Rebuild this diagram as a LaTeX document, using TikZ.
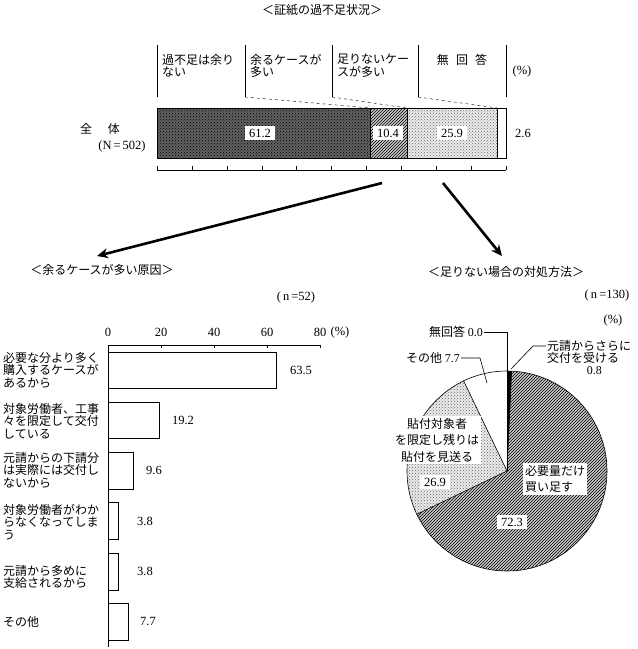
\documentclass[tikz,border=0pt]{standalone}
\usepackage{fontspec}
\setmainfont{Noto Sans CJK JP}
\newfontfamily\numfont{Liberation Serif}
\usepackage{tikz}
\usetikzlibrary{patterns,arrows.meta,positioning}

\tikzset{
  every node/.style={inner sep=1pt, font=\fontsize{12}{12.5}\selectfont},
  numbox/.style={font=\numfont\fontsize{12.5}{13}\selectfont, fill=white, inner xsep=4pt, inner ysep=3pt},
  numplain/.style={font=\numfont\fontsize{12.5}{13}\selectfont},
  hdrtext/.style={anchor=north west, align=left},
  cattext/.style={anchor=west, align=left},
  piebox/.style={fill=white, inner sep=2pt, font=\fontsize{12}{16.5}\selectfont},
  causebar/.style={draw, fill=white, line width=0.6pt},
  bigarrow/.style={line width=2.6pt, -{Stealth[length=11pt,width=10pt]}},
  leader/.style={line width=0.6pt},
  darkpat/.style={preaction={fill=black!62}, pattern=crosshatch dots, pattern color=black},
  hatchpat/.style={preaction={fill=black!22}, pattern=north east lines, pattern color=black},
  dotpat/.style={preaction={fill=black!8}, pattern=crosshatch dots, pattern color=black!60},
}
\newcommand{\nm}[1]{{\numfont #1}}

\begin{document}
\begin{tikzpicture}[x=1pt,y=-1pt]
  \useasboundingbox (0,0) rectangle (638,649);

  % overall status
  \node (ttlTop) at (322,10) {＜証紙の過不足状況＞};

  \draw[line width=0.6pt] (157,45) -- (157,97) (245,45) -- (245,97) (332,45) -- (332,97)
    (418,45) -- (418,97) (506,45) -- (506,97);
  \node[hdrtext] (hdrEnough) at (161,53) {過不足は余り\\ない};
  \node[hdrtext] (hdrSurplus) at (249,53) {余るケースが\\多い};
  \node[hdrtext] (hdrShort) at (336,53) {足りないケー\\スが多い};
  \node (hdrNoAns) at (462,60) {無\hspace{0.6em}回\hspace{0.6em}答};
  \node[numplain] (hdrPct) at (522,71) {(\%)};

  \draw[darkpat] (157,108) rectangle (370.6,158);
  \draw[hatchpat] (370.6,108) rectangle (406.9,158);
  \draw[dotpat] (406.9,108) rectangle (497.3,158);
  \draw[fill=white] (497.3,108) rectangle (506,158);
  \draw[line width=0.6pt] (157,108) rectangle (506,158);

  \draw[dashed] (245,97) -- (370.6,108);
  \draw[dashed] (332,97) -- (406.9,108);
  \draw[dashed] (418,97) -- (497.3,108);

  \node[numbox] (valEnough) at (260,133) {61.2};
  \node[numbox] (valSurplus) at (388,133) {10.4};
  \node[numbox] (valShort) at (452,133) {25.9};
  \node[numplain] (valNoAns) at (523,133) {2.6};

  \node (allLbl) at (100,129) {全\hspace{1.3em}体};
  \node[numplain] (allN) at (122,146) {(N\,=\,502)};

  \draw (157,170) -- (506,170);
  \draw (157,170) -- ++(0,-4) (191.9,170) -- ++(0,-4) (226.8,170) -- ++(0,-4)
    (261.7,170) -- ++(0,-4) (296.6,170) -- ++(0,-4) (331.5,170) -- ++(0,-4)
    (366.4,170) -- ++(0,-4) (401.3,170) -- ++(0,-4) (436.2,170) -- ++(0,-4)
    (471.1,170) -- ++(0,-4) (506,170) -- ++(0,-4);

  \coordinate (splitL) at (382,183);
  \coordinate (splitR) at (443,183);
  \coordinate (tipL) at (97,256);
  \coordinate (tipR) at (502,256);
  \draw[bigarrow] (splitL) -- (tipL);
  \draw[bigarrow] (splitR) -- (tipR);

  % reasons for surplus
  \node (ttlCause) at (102,270) {＜余るケースが多い原因＞};
  \node[numplain] (nCause) at (296,297) {(\,n\,=52)};

  \node[numplain] (ax0) at (108,332) {0};
  \node[numplain] (ax20) at (161,332) {20};
  \node[numplain] (ax40) at (214,332) {40};
  \node[numplain] (ax60) at (267,332) {60};
  \node[numplain] (ax80) at (320,332) {80};
  \node[numplain] (axPct) at (340,332) {(\%)};
  \draw (108,345) -- (320,345);
  \draw (161,345) -- ++(0,3) (214,345) -- ++(0,3) (267,345) -- ++(0,3) (320,345) -- ++(0,3);
  \draw (108,345) -- (108,647);

  \draw[causebar] (108,352) rectangle (276.3,388);
  \draw[causebar] (108,402) rectangle (158.9,438);
  \draw[causebar] (108,452) rectangle (133.4,489);
  \draw[causebar] (108,502) rectangle (118.1,539);
  \draw[causebar] (108,553) rectangle (118.1,590);
  \draw[causebar] (108,603) rectangle (128.4,640);

  \node[numplain] (valBuy) at (301,370) {63.5};
  \node[numplain] (valLimit) at (183,420) {19.2};
  \node[numplain] (valSub) at (154,470) {9.6};
  \node[numplain] (valLost) at (145,521) {3.8};
  \node[numplain] (valExtra) at (145,571) {3.8};
  \node[numplain] (valOther) at (148,621) {7.7};

  \node[cattext] (catBuy) at (2,370) {必要な分より多く\\購入するケースが\\あるから};
  \node[cattext] (catLimit) at (2,421) {対象労働者、工事\\々を限定して交付\\している};
  \node[cattext] (catSub) at (2,470) {元請からの下請分\\は実際には交付し\\ないから};
  \node[cattext] (catLost) at (2,522) {対象労働者がわか\\らなくなってしま\\う};
  \node[cattext] (catExtra) at (2,577) {元請から多めに\\支給されるから};
  \node[cattext] (catOther) at (2,622) {その他};

  % handling shortage
  \node (ttlShort) at (506,272) {＜足りない場合の対処方法＞};
  \node[numplain] (nShort) at (607,295) {(\,n\,=130)};
  \node[numplain] (pctShort) at (613,320) {(\%)};

  \coordinate (pc) at (507,471);
  \path[hatchpat] (pc) -- ++(-87.33:100) arc[start angle=-87.33, end angle=154.4, radius=100] -- cycle;
  \path[dotpat] (pc) -- ++(-205.6:100) arc[start angle=-205.6, end angle=-115.7, radius=100] -- cycle;
  \fill[black] (pc) -- ++(-90:100) arc[start angle=-90, end angle=-87.33, radius=100] -- cycle;
  \draw[line width=0.6pt] (pc) -- ++(-87.33:100);
  \draw[line width=0.6pt] (pc) -- ++(154.4:100);
  \draw[line width=0.6pt] (pc) -- ++(-115.7:100);
  \draw[line width=0.6pt] (pc) -- ++(-90:100);
  \draw[line width=0.6pt] (pc) circle[radius=100];

  \node[piebox, align=center] (pieSkip) at (437,440) {貼付対象者\\を限定し残りは\\貼付を見送る};
  \node[numbox] (valSkip) at (435,482) {26.9};
  \node[piebox, align=left] (pieBuy) at (555,479) {必要量だけ\\買い足す};
  \node[numbox] (valBuyMore) at (512,522) {72.3};

  \node (noteNoAns) at (456,332) {無回答\ \nm{0.0}};
  \coordinate (tipNoAns) at (507,371);
  \draw[leader] (noteNoAns.east) -| (tipNoAns);

  \node (noteOther) at (433,358) {その他\ \nm{7.7}};
  \coordinate (bendOther) at (480,358);
  \coordinate (tipOther) at (487,383);
  \draw[leader] (noteOther.east) -- (bendOther) -- (tipOther);

  \node[anchor=north west, align=left, font=\fontsize{12}{12}\selectfont] (noteMore) at (546,339)
    {元請からさらに\\交付を受ける\\\hspace*{3.3em}\nm{0.8}};
  \coordinate (bendMore) at (533,346);
  \coordinate (tipMore) at (511,369);
  \draw[leader] (noteMore.west |- bendMore) -- (bendMore) -- (tipMore);
\end{tikzpicture}
\end{document}
